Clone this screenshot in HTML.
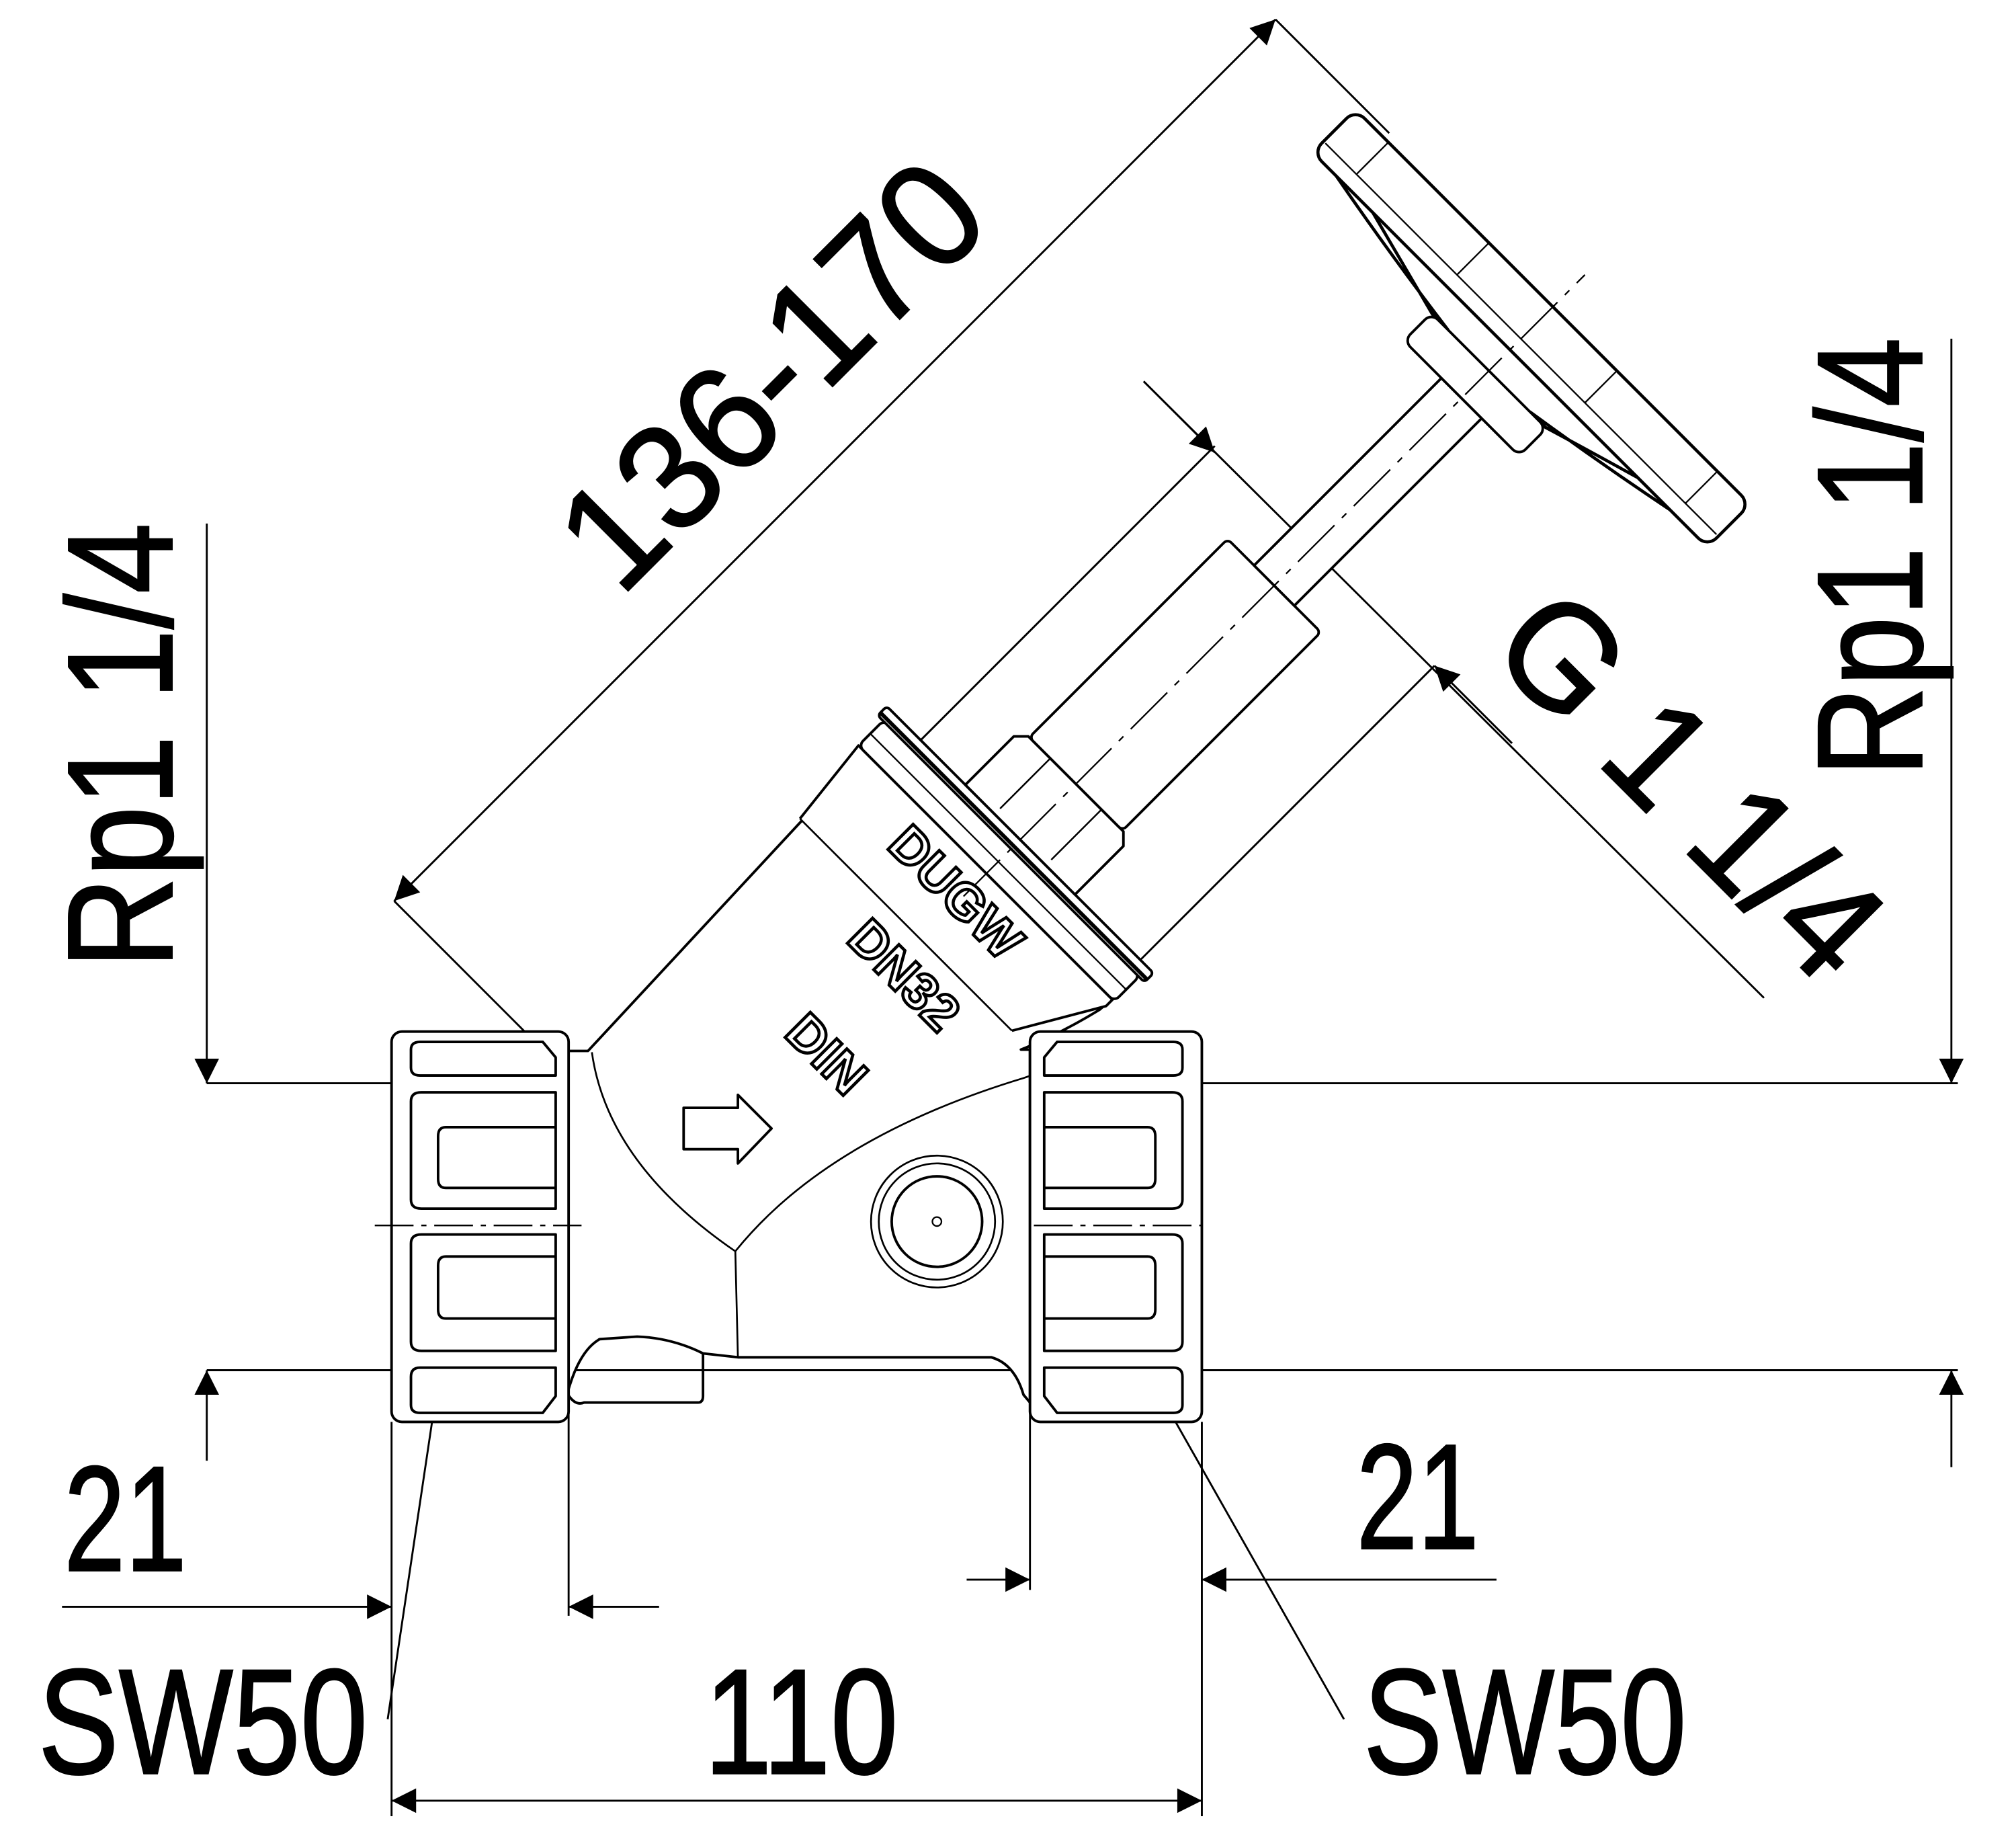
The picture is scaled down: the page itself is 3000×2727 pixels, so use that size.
<!DOCTYPE html>
<html><head><meta charset="utf-8"><style>
html,body{margin:0;padding:0;background:#fff}
svg{display:block}
text{font-family:"Liberation Sans",sans-serif;fill:#000}
</style></head><body>
<svg width="3000" height="2727" viewBox="0 0 1560 1418" xmlns="http://www.w3.org/2000/svg">
<defs>
<marker id="a" viewBox="0 0 10 10" refX="10" refY="5" markerWidth="50" markerHeight="19" markerUnits="userSpaceOnUse" orient="auto-start-reverse"><path d="M0,0 L10,5 L0,10 z" fill="#000"/></marker>
</defs>
<g stroke="#000" fill="none" stroke-width="1.5">
<line x1="160" y1="838" x2="1515" y2="838"/>
<line x1="160" y1="1060" x2="1515" y2="1060"/>
<line x1="160" y1="405" x2="160" y2="838" marker-end="url(#a)"/>
<line x1="160" y1="1130" x2="160" y2="1060" marker-end="url(#a)"/>
<line x1="1510" y1="262" x2="1510" y2="838" marker-end="url(#a)"/>
<line x1="1510" y1="1135" x2="1510" y2="1060" marker-end="url(#a)"/>
<line x1="48" y1="1243" x2="303" y2="1243" marker-end="url(#a)"/>
<line x1="510" y1="1243" x2="440" y2="1243" marker-end="url(#a)"/>
<line x1="440" y1="1040" x2="440" y2="1250"/>
<line x1="748" y1="1222" x2="797" y2="1222" marker-end="url(#a)"/>
<line x1="1158" y1="1222" x2="930" y2="1222" marker-end="url(#a)"/>
<line x1="797" y1="1090" x2="797" y2="1230"/>
<line x1="303" y1="1100" x2="303" y2="1405"/>
<line x1="930" y1="1100" x2="930" y2="1405"/>
<line x1="303" y1="1393" x2="930" y2="1393" marker-start="url(#a)" marker-end="url(#a)"/>
<line x1="300" y1="1330" x2="350" y2="995"/>
<line x1="1040" y1="1330" x2="853" y2="1000"/>
<line x1="305" y1="697" x2="987" y2="15" marker-start="url(#a)" marker-end="url(#a)"/>
<line x1="305" y1="697" x2="415" y2="807"/>
<line x1="987" y1="15" x2="1075" y2="103"/>
<line x1="885" y1="295" x2="1365" y2="772"/>
<line x1="885" y1="295" x2="940" y2="350" marker-end="url(#a)"/>
<line x1="1170" y1="575" x2="1110" y2="515" marker-end="url(#a)"/>
<line x1="940" y1="345" x2="710" y2="575"/>
<line x1="1110" y1="515" x2="880" y2="745"/>
</g>

<g stroke="#000" fill="#fff" stroke-width="2" stroke-linejoin="round">
<path d="M438,813 L455,813 L625,630 L858,775 L851,781 Q820,800 790,812 L797,812 L797,1085 L792,1079 Q785,1055 767,1050 L571,1050 L544,1047 Q520,1035 493,1034 L464,1036 Q448,1045 439,1078 Z"/>
<path d="M439,1078 Q445,1088 452,1085 L540,1085 Q544,1085 544,1080 L544,1047" fill="none"/>
<path d="M458,814 Q470,900 569,968 L571,1050" fill="none" stroke-width="1.4"/>
<path d="M569,968 Q640,880 792,834 L847,815" fill="none" stroke-width="1.4"/>
<circle cx="725" cy="945" r="51" stroke-width="1.4"/><circle cx="725" cy="945" r="45" stroke-width="1.4"/><circle cx="725" cy="945" r="35"/><circle cx="725" cy="945" r="3.5" stroke-width="1.2"/>
<path d="M529,857 L571,857 L571,847 L597,873 L571,900 L571,889 L529,889 Z"/>
<rect x="303" y="798" width="137" height="302" rx="8"/>
<path d="M318,812 Q318,806 325,806 L420,806 L430,818 L430,832 L325,832 Q318,832 318,826 Z"/>
<path d="M318,852 Q318,845 326,845 L430,845 L430,935 L326,935 Q318,935 318,928 Z"/>
<path d="M430,872 L345,872 Q339,872 339,879 L339,912 Q339,919 345,919 L430,919" fill="none"/>
<path d="M318,962 Q318,955 326,955 L430,955 L430,1045 L326,1045 Q318,1045 318,1038 Z"/>
<path d="M430,972 L345,972 Q339,972 339,979 L339,1013 Q339,1020 345,1020 L430,1020" fill="none"/>
<path d="M318,1065 Q318,1058 325,1058 L430,1058 L430,1080 L420,1093 L325,1093 Q318,1093 318,1087 Z"/>
<rect x="797" y="798" width="133" height="302" rx="8"/>
<path d="M915,812 Q915,806 908,806 L818,806 L808,818 L808,832 L908,832 Q915,832 915,826 Z"/>
<path d="M915,852 Q915,845 907,845 L808,845 L808,935 L907,935 Q915,935 915,928 Z"/>
<path d="M808,872 L888,872 Q894,872 894,879 L894,912 Q894,919 888,919 L808,919" fill="none"/>
<path d="M915,962 Q915,955 907,955 L808,955 L808,1045 L907,1045 Q915,1045 915,1038 Z"/>
<path d="M808,972 L888,972 Q894,972 894,979 L894,1013 Q894,1020 888,1020 L808,1020" fill="none"/>
<path d="M915,1065 Q915,1058 908,1058 L808,1058 L808,1080 L818,1093 L908,1093 Q915,1093 915,1087 Z"/>
</g>
<g stroke="#000" stroke-width="1.3" stroke-dasharray="30,6,4,6">
<line x1="290" y1="948" x2="450" y2="948"/>
<line x1="800" y1="948" x2="930" y2="948"/>
</g>

<g transform="translate(788,651) rotate(-45)" stroke="#000" fill="#fff" stroke-width="2" stroke-linejoin="round">
<path d="M-107,-132 L-35,-140 L-35,138 L-42,138 L-107,100"/>
<line x1="-107" y1="-132" x2="-107" y2="100" stroke-width="1.4"/>
<rect x="-35" y="-140" width="28" height="280" rx="5"/>
<line x1="-22" y1="-140" x2="-22" y2="140" stroke-width="1.2"/>
<rect x="-8" y="-146" width="10" height="292" rx="3"/>
<line x1="-5" y1="-146" x2="-5" y2="146" stroke-width="3"/>
<path d="M2,-60 L55,-60 L63,-52 L63,52 L55,60 L2,60 Z"/>
<line x1="8" y1="-28" x2="63" y2="-28" stroke-width="1.3"/>
<line x1="8" y1="28" x2="63" y2="28" stroke-width="1.3"/>
<rect x="63" y="-51" width="217" height="102" rx="4"/>
<rect x="280" y="-22" width="205" height="44"/>
<path d="M515,-45 Q525,-120 538,-190 L538,-150 Q525,-100 515,-62 Z" stroke-width="2.4"/>
<path d="M515,45 Q525,110 538,175 L538,140 Q525,95 515,62 Z" stroke-width="2.4"/>
<rect x="485" y="-63" width="30" height="126" rx="7"/>
<rect x="538" y="-216" width="47" height="432" rx="10" stroke-width="2.4"/>
<line x1="550" y1="-214" x2="550" y2="214" stroke-width="1.2"/>
<line x1="550" y1="-180" x2="585" y2="-180" stroke-width="1.2"/>
<line x1="550" y1="-70" x2="585" y2="-70" stroke-width="1.2"/>
<line x1="550" y1="70" x2="585" y2="70" stroke-width="1.2"/>
<line x1="550" y1="180" x2="585" y2="180" stroke-width="1.2"/>
<line x1="-60" y1="0" x2="620" y2="0" stroke-width="1.2" stroke-dasharray="40,8,5,8"/>
</g>

<g font-weight="bold" font-size="40" stroke="#000" stroke-width="2.4" text-anchor="middle">
<text transform="translate(730,700) rotate(45)" style="fill:#fff">DUGW</text>
<text transform="translate(690,764) rotate(45)" style="fill:#fff">DN32</text>
<text transform="translate(630,825) rotate(45)" style="fill:#fff">DIN</text>
</g>

<g font-size="116" stroke="#000" stroke-width="1.3">
<text transform="translate(133,577) rotate(-90)" text-anchor="middle" textLength="345" lengthAdjust="spacingAndGlyphs">Rp1 1/4</text>
<text transform="translate(1487,431) rotate(-90)" text-anchor="middle" textLength="340" lengthAdjust="spacingAndGlyphs">Rp1 1/4</text>
<text x="97" y="1215" text-anchor="middle" textLength="95" lengthAdjust="spacingAndGlyphs">21</text>
<text x="1097" y="1198" text-anchor="middle" textLength="95" lengthAdjust="spacingAndGlyphs">21</text>
<text x="620" y="1372" text-anchor="middle" textLength="150" lengthAdjust="spacingAndGlyphs">110</text>
<text x="157" y="1372" text-anchor="middle" textLength="255" lengthAdjust="spacingAndGlyphs">SW50</text>
<text x="1180" y="1372" text-anchor="middle" textLength="250" lengthAdjust="spacingAndGlyphs">SW50</text>
<text transform="translate(625,318) rotate(-45)" text-anchor="middle" textLength="410" lengthAdjust="spacingAndGlyphs">136-170</text>
<text transform="translate(1280,635) rotate(45)" text-anchor="middle" textLength="368" lengthAdjust="spacingAndGlyphs">G 1 1/4</text>
</g>
</svg>
</body></html>
